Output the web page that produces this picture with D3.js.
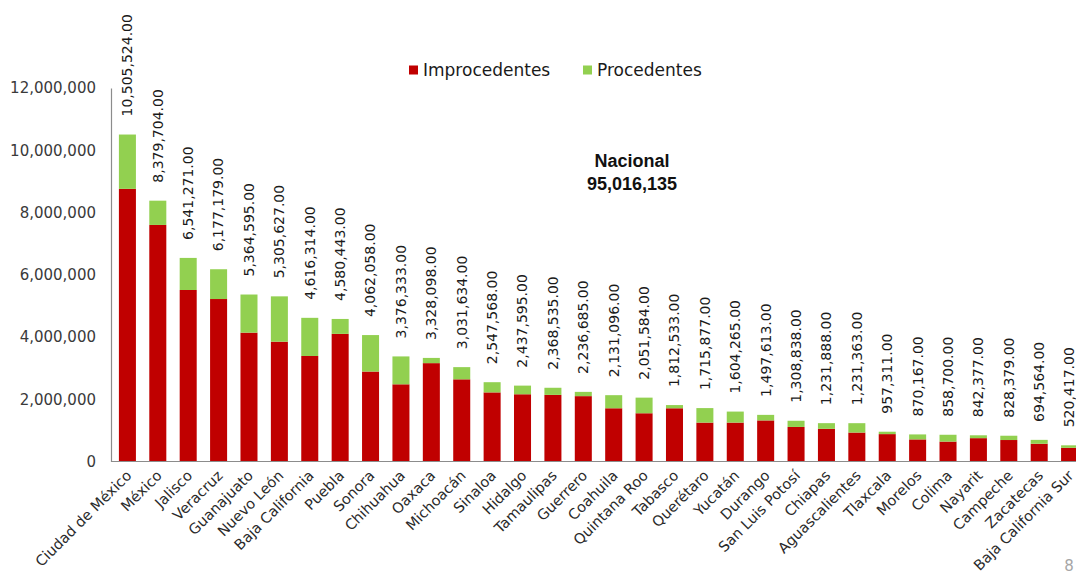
<!DOCTYPE html>
<html lang="es">
<head>
<meta charset="UTF-8">
<title>Nacional 95,016,135</title>
<script src="https://cdn.jsdelivr.net/npm/d3@7"></script>
<style>
  body { margin: 0; background: #fff; }
  svg { display: block; font-family: 'DejaVu Sans', sans-serif; }
</style>
</head>
<body>
<svg id="chart" width="1076" height="582"></svg>
<script>
// Estados
const estados = ["Ciudad de México", "México", "Jalisco", "Veracruz", "Guanajuato", "Nuevo León",
  "Baja California", "Puebla", "Sonora", "Chihuahua", "Oaxaca", "Michoacán", "Sinaloa", "Hidalgo",
  "Tamaulipas", "Guerrero", "Coahuila", "Quintana Roo", "Tabasco", "Querétaro", "Yucatán", "Durango",
  "San Luis Potosí", "Chiapas", "Aguascalientes", "Tlaxcala", "Morelos", "Colima", "Nayarit",
  "Campeche", "Zacatecas", "Baja California Sur"];

// Totales (etiquetas sobre las barras)
const totales = [10505524, 8379704, 6541271, 6177179, 5364595, 5305627, 4616314, 4580443, 4062058,
  3376333, 3328098, 3031634, 2547568, 2437595, 2368535, 2236685, 2131096, 2051584, 1812533, 1715877,
  1604265, 1497613, 1308838, 1231888, 1231363, 957311, 870167, 858700, 842377, 828379, 694564, 520417];

// Improcedentes (estimados del gráfico)
const improcedentes = [8760000, 7600000, 5510000, 5220000, 4140000, 3850000, 3390000, 4100000, 2890000,
  2480000, 3160000, 2640000, 2220000, 2160000, 2140000, 2100000, 1710000, 1550000, 1710000, 1250000,
  1250000, 1320000, 1110000, 1050000, 930000, 880000, 710000, 640000, 750000, 690000, 570000, 440000];

// Procedentes (estimados del gráfico)
const procedentes = [1745000, 780000, 1031000, 957000, 1225000, 1456000, 1226000, 480000, 1172000,
  896000, 168000, 392000, 328000, 278000, 229000, 137000, 421000, 502000, 103000, 466000,
  354000, 178000, 199000, 182000, 301000, 77000, 160000, 219000, 92000, 138000, 125000, 80000];

const yTicks = [0, 2000000, 4000000, 6000000, 8000000, 10000000, 12000000];
const series = ["Improcedentes", "Procedentes"];
const colores = ["#C00000", "#92D050"];

const svg = d3.select("#chart");

const x = d3.scaleBand()
  .domain(estados)
  .range([111, 1086])
  .paddingInner(0.44)
  .paddingOuter(0.26);

const y = d3.scaleLinear()
  .domain([0, 12000000])
  .range([461.5, 88]);

const fmt = d3.format(",");
const fmt2 = d3.format(",.2f");

// Eje Y
const yAxis = svg.append("g")
  .attr("transform", "translate(111,0)")
  .call(d3.axisLeft(y).tickValues(yTicks).tickSize(0).tickPadding(15).tickFormat(fmt));
yAxis.select(".domain").attr("stroke", "#8c8c8c").attr("stroke-width", 1.2);
yAxis.selectAll("text")
  .attr("font-size", 15)
  .attr("font-family", "'DejaVu Sans', sans-serif")
  .attr("fill", "#3a3a3a");

// Barras apiladas
const tabla = estados.map((e, i) => ({ estado: e, Improcedentes: improcedentes[i], Procedentes: procedentes[i] }));
const stack = d3.stack().keys(series)(tabla);

svg.append("g").selectAll("g")
  .data(stack)
  .join("g")
  .attr("fill", (d, i) => colores[i])
  .selectAll("rect")
  .data(d => d)
  .join("rect")
  .attr("x", d => x(d.data.estado))
  .attr("width", x.bandwidth())
  .attr("y", d => y(d[1]))
  .attr("height", d => y(d[0]) - y(d[1]));

// Eje X
const xAxis = svg.append("g")
  .attr("transform", "translate(0,461.5)")
  .call(d3.axisBottom(x).tickSize(0).tickSizeOuter(0));
xAxis.select(".domain").attr("stroke", "#8c8c8c").attr("stroke-width", 1.2)
  .attr("d", "M111,0H1076");
xAxis.selectAll("text")
  .attr("font-size", 14.5)
  .attr("font-family", "'DejaVu Sans', sans-serif")
  .attr("fill", "#2a2a2a")
  .attr("text-anchor", "end")
  .attr("dy", null)
  .attr("y", 0)
  .attr("transform", "translate(5,15) rotate(-45)");

// Etiquetas de totales
svg.append("g").selectAll("text")
  .data(estados)
  .join("text")
  .attr("transform", (d, i) => `translate(${x(d) + x.bandwidth() / 2},${y(totales[i]) - 18}) rotate(-90)`)
  .attr("dy", "0.35em")
  .attr("font-size", 14)
  .attr("fill", "#1a1a1a")
  .text((d, i) => fmt2(totales[i]));

// Leyenda
const leyenda = svg.append("g").attr("font-size", 17).attr("fill", "#1a1a1a");
const legX = [409, 583];
series.forEach((s, i) => {
  leyenda.append("rect").attr("x", legX[i]).attr("y", 65.5).attr("width", 9).attr("height", 9).attr("fill", colores[i]);
  leyenda.append("text").attr("x", legX[i] + 14).attr("y", 70).attr("dy", "0.35em").text(s);
});

// Nacional
svg.append("text").attr("x", 632).attr("y", 167).attr("text-anchor", "middle")
  .attr("font-family", "'Liberation Sans', Arial, sans-serif").attr("font-weight", "bold")
  .attr("font-size", 18).attr("fill", "#111").text("Nacional");
svg.append("text").attr("x", 632).attr("y", 190).attr("text-anchor", "middle")
  .attr("font-family", "'Liberation Sans', Arial, sans-serif").attr("font-weight", "bold")
  .attr("font-size", 18).attr("fill", "#111").text("95,016,135");

// Número de página
svg.append("text").attr("x", 1069).attr("y", 571).attr("text-anchor", "middle")
  .attr("font-size", 15).attr("fill", "#a6a6a6").text("8");
</script>
</body>
</html>
